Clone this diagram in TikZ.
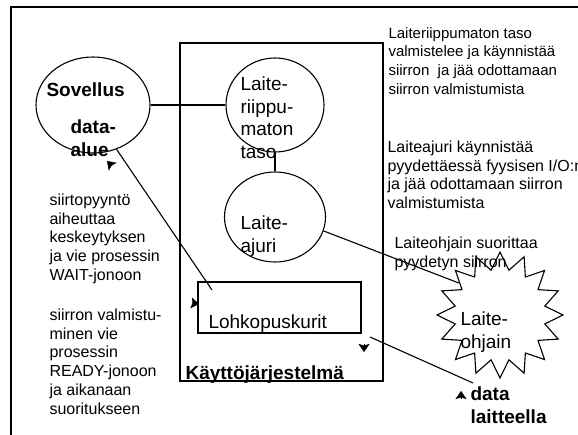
\documentclass[tikz,border=0pt]{standalone}
\usepackage{fontspec}
\setmainfont{Liberation Sans}
\usetikzlibrary{shapes.geometric,arrows.meta}

\begin{document}
\begin{tikzpicture}[x=1pt, y=-1pt, line width=1.1pt,
  blob/.style={draw, ellipse, inner sep=0pt},
  note/.style={anchor=north west, inner sep=0pt, align=left, font=\fontsize{16}{18.7}\selectfont},
  big/.style={anchor=north west, inner sep=0pt, align=left, font=\fontsize{19}{22.5}\selectfont},
  bigbold/.style={big, font=\fontsize{19}{22.5}\selectfont\bfseries},
  oneline/.style={anchor=base west, inner sep=0pt, font=\fontsize{19}{22.5}\selectfont},
  tipmark/.style={line width=0.4pt, -{Stealth[length=8pt,width=11pt,inset=1.5pt]}}]

  \useasboundingbox (0,0) rectangle (578,434);
  \fill[white] (0,0) rectangle (578,434);

  % --- Outer frame ---
  \draw (11,440) -- (11,7) -- (590,7);

  % --- Operating system box ---
  \node[draw, minimum width=203pt, minimum height=338pt, inner sep=0pt] (kj) at (281.5,212) {};
  \node[oneline, font=\fontsize{19}{22.5}\selectfont\bfseries] (kjlabel) at (185,379) {Käyttöjärjestelmä};

  % --- Application with its data area ---
  \node[blob, minimum width=114pt, minimum height=96pt] (sovellus) at (93,105) {};
  \node[oneline, font=\fontsize{19}{22.5}\selectfont\bfseries] (sovlabel) at (46,96.5) {Sovellus};
  \node[bigbold] (alue) at (70,117.25) {\strut data-\\alue};

  % --- Device independent layer and device driver ---
  \node[blob, minimum width=98pt, minimum height=94pt] (riippumaton) at (275,105) {};
  \node[big] (riiplabel) at (240,74.25) {\strut Laite-\\riippu-\\maton\\taso};
  \node[blob, minimum width=101pt, minimum height=90pt] (ajuri) at (275,217) {};
  \node[big] (ajurilabel) at (240,213.25) {\strut Laite-\\ajuri};

  % --- Block buffers ---
  \node[draw, minimum width=163pt, minimum height=51pt, inner sep=0pt] (puskurit) at (279.5,307.5) {};
  \node[oneline] (puslabel) at (208,328) {Lohkopuskurit};

  % --- Device controller ---
  \node[draw, star, star points=16, star point ratio=1.38, minimum size=126pt, inner sep=0pt] (ohjain) at (500,315) {};
  \node[big] (ohjainlabel) at (460,309.25) {\strut Laite-\\ohjain};
  \node[bigbold] (laitedata) at (470,384.25) {\strut data\\laitteella};

  % --- Notes ---
  \node[note, font=\fontsize{15}{18.8}\selectfont] (note1) at (388,24.3) {\strut Laiteriippumaton taso\\valmistelee ja käynnistää\\siirron~ ja jää odottamaan\\siirron valmistumista};
  \node[note] (note2) at (387,138.9) {\strut Laiteajuri käynnistää\\pyydettäessä fyysisen I/O:n\\ja jää odottamaan siirron\\valmistumista};
  \node[note] (note3) at (394,234.9) {\strut Laiteohjain suorittaa\\pyydetyn siirron};
  \node[note] (note4) at (49,191.9) {\strut siirtopyyntö\\aiheuttaa\\keskeytyksen\\ja vie prosessin\\WAIT-jonoon};
  \node[note] (note5) at (49,306.9) {\strut siirron valmistu-\\minen vie\\prosessin\\READY-jonoon\\ja aikanaan\\suoritukseen};

  % --- Connectors ---
  \coordinate (bufin) at (212,290);
  \coordinate (bufout) at (370,337);
  \coordinate (devdata) at (473,383);
  \draw (sovellus) -- (riippumaton);
  \draw (riippumaton) -- (ajuri);
  \draw (ajuri.-16) -- (ohjain.142);
  \draw (sovellus.-62) -- (bufin);
  \draw (bufout) -- (devdata);

  % --- Loose arrow heads ---
  \coordinate (tipa) at (107,161);
  \coordinate (tipb) at (199,304);
  \coordinate (tipc) at (364,352);
  \coordinate (tipd) at (461,391);
  \draw[tipmark] ([shift={(5,5)}]tipa) -- (tipa);
  \draw[tipmark] ([shift={(-7,-1)}]tipb) -- (tipb);
  \draw[tipmark] ([shift={(0,-8)}]tipc) -- (tipc);
  \draw[tipmark] ([shift={(0,8)}]tipd) -- (tipd);

\end{tikzpicture}
\end{document}
